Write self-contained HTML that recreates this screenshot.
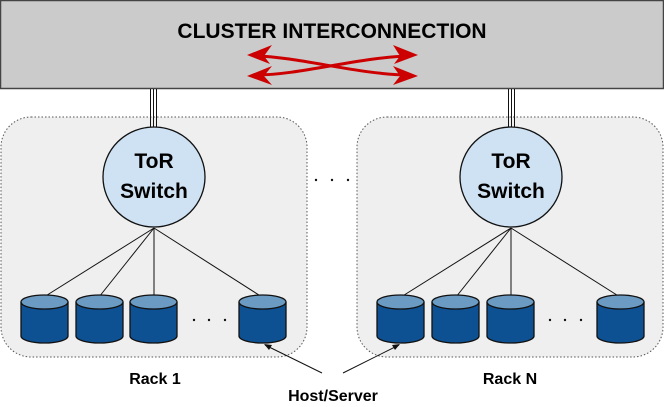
<!DOCTYPE html>
<html><head><meta charset="utf-8"><style>
html,body{margin:0;padding:0;background:#fff;}
svg{display:block;}
text{font-family:"Liberation Sans",sans-serif;font-weight:bold;fill:#000;}
</style></head><body>
<svg width="664" height="407" viewBox="0 0 664 407" xmlns="http://www.w3.org/2000/svg">
<defs>
<g id="disk">
<path d="M0,7 L0,41 A23.5,7 0 0 0 47,41 L47,7" fill="#0e5193" stroke="#111" stroke-width="1.3"/>
<ellipse cx="23.5" cy="7" rx="23.5" ry="7" fill="#6b9bc3" stroke="#111" stroke-width="1.3"/>
</g>
</defs>
<rect x="0.5" y="0.5" width="663" height="88" fill="#cbcbcb" stroke="#444" stroke-width="1.5"/>
<text x="332" y="38" font-size="21" text-anchor="middle">CLUSTER INTERCONNECTION</text>
<g stroke="#cc0000" stroke-width="3" fill="none">
<path d="M256,56 C300,57 360,75 410,75"/>
<path d="M256,75 C300,75 360,57 410,56"/>
</g>
<g fill="#cc0000">
<polygon points="247,55 272,45 264,56 270,64"/>
<polygon points="247,76 272,66 264,76 272,85"/>
<polygon points="418,55 393,45 400,56 394,64"/>
<polygon points="418,76 393,66 400,76 393,85"/>
</g>
<rect x="1" y="117" width="306" height="240" rx="30" fill="#efefef" stroke="#555" stroke-dasharray="1.5,2"/>
<rect x="357" y="117" width="306" height="240" rx="30" fill="#efefef" stroke="#555" stroke-dasharray="1.5,2"/>
<g stroke="#111" stroke-width="1">
<line x1="150.5" y1="89" x2="150.5" y2="128"/><line x1="153.5" y1="89" x2="153.5" y2="128"/><line x1="156.5" y1="89" x2="156.5" y2="128"/>
<line x1="508.5" y1="89" x2="508.5" y2="128"/><line x1="511.5" y1="89" x2="511.5" y2="128"/><line x1="514.5" y1="89" x2="514.5" y2="128"/>
<line x1="154" y1="228" x2="44" y2="297"/><line x1="154" y1="228" x2="99" y2="297"/><line x1="154" y1="228" x2="154" y2="297"/><line x1="154" y1="228" x2="262" y2="297"/>
<line x1="511" y1="228" x2="401" y2="297"/><line x1="511" y1="228" x2="456" y2="297"/><line x1="511" y1="228" x2="511" y2="297"/><line x1="511" y1="228" x2="620" y2="297"/>
</g>
<ellipse cx="154" cy="177" rx="51" ry="50" fill="#cfe2f3" stroke="#111" stroke-width="1.3"/>
<ellipse cx="511" cy="177" rx="51" ry="50" fill="#cfe2f3" stroke="#111" stroke-width="1.3"/>
<text x="154" y="168" font-size="21" text-anchor="middle">ToR</text>
<text x="154" y="198" font-size="21" text-anchor="middle">Switch</text>
<text x="511" y="168" font-size="21" text-anchor="middle">ToR</text>
<text x="511" y="198" font-size="21" text-anchor="middle">Switch</text>
<use href="#disk" x="21" y="295"/><use href="#disk" x="76" y="295"/><use href="#disk" x="130" y="295"/><use href="#disk" x="239" y="295"/>
<use href="#disk" x="377" y="295"/><use href="#disk" x="432" y="295"/><use href="#disk" x="487" y="295"/><use href="#disk" x="597" y="295"/>
<g fill="#111">
<circle cx="194" cy="320" r="1.2"/><circle cx="209" cy="320" r="1.2"/><circle cx="225" cy="320" r="1.2"/>
<circle cx="550" cy="320" r="1.2"/><circle cx="565" cy="320" r="1.2"/><circle cx="581" cy="320" r="1.2"/>
<circle cx="316" cy="180" r="1.2"/><circle cx="332" cy="180" r="1.2"/><circle cx="348" cy="180" r="1.2"/>
</g>
<g stroke="#111" stroke-width="1">
<line x1="322" y1="373" x2="265" y2="345"/><line x1="343" y1="373" x2="399" y2="345"/>
</g>
<polygon points="264,344 272,345 269,350" fill="#111"/>
<polygon points="400,344 395,350 392,345" fill="#111"/>
<text x="155" y="384" font-size="16" text-anchor="middle">Rack 1</text>
<text x="510" y="384" font-size="16" text-anchor="middle">Rack N</text>
<text x="333" y="401" font-size="16" text-anchor="middle">Host/Server</text>
</svg>
</body></html>
